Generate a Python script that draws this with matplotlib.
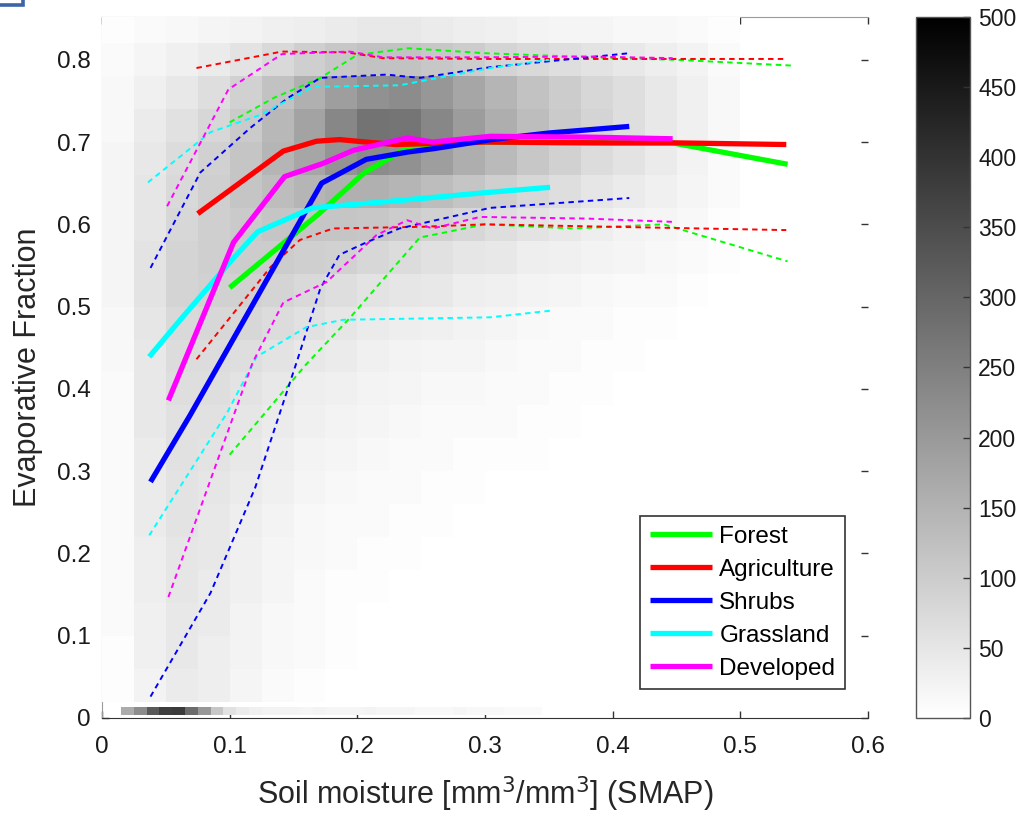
import numpy as np
import matplotlib
matplotlib.use("Agg")
import matplotlib.pyplot as plt
from matplotlib.patches import Rectangle

plt.rcParams["font.family"] = ["Liberation Sans", "DejaVu Sans"]

# --- binned medians (solid) and spread bounds (dashed) per land cover ---
classes = ["Forest", "Agriculture", "Shrubs", "Grassland", "Developed"]
colors = ["#00ff00", "#ff0000", "#0000ff", "#00ffff", "#ff00ff"]

forest_x = [0.10, 0.135, 0.17, 0.205, 0.24, 0.30, 0.36, 0.40, 0.447, 0.537]
forest_mid = [0.523, 0.568, 0.613, 0.662, 0.694, 0.700, 0.699, 0.699, 0.699, 0.673]
forest_hi_x = [0.10, 0.135, 0.17, 0.20, 0.24, 0.30, 0.40, 0.45, 0.54]
forest_hi = [0.724, 0.754, 0.777, 0.806, 0.814, 0.808, 0.802, 0.800, 0.793]
forest_lo_x = [0.10, 0.16, 0.194, 0.223, 0.249, 0.30, 0.37, 0.44, 0.537]
forest_lo = [0.320, 0.430, 0.486, 0.538, 0.584, 0.600, 0.595, 0.600, 0.555]

agri_x = [0.075, 0.142, 0.168, 0.186, 0.207, 0.23, 0.30, 0.40, 0.45, 0.536]
agri_mid = [0.613, 0.689, 0.701, 0.703, 0.700, 0.697, 0.700, 0.699, 0.699, 0.697]
agri_hi_x = [0.074, 0.141, 0.192, 0.22, 0.30, 0.40, 0.536]
agri_hi = [0.790, 0.810, 0.809, 0.802, 0.801, 0.801, 0.801]
agri_lo_x = [0.074, 0.132, 0.155, 0.181, 0.25, 0.30, 0.40, 0.536]
agri_lo = [0.436, 0.548, 0.581, 0.595, 0.597, 0.600, 0.597, 0.593]

shrub_x = [0.038, 0.069, 0.172, 0.207, 0.24, 0.26, 0.305, 0.35, 0.413]
shrub_mid = [0.287, 0.368, 0.650, 0.679, 0.688, 0.692, 0.703, 0.711, 0.719]
shrub_hi_x = [0.038, 0.077, 0.116, 0.145, 0.171, 0.223, 0.249, 0.304, 0.413]
shrub_hi = [0.547, 0.663, 0.717, 0.753, 0.778, 0.782, 0.778, 0.791, 0.808]
shrub_lo_x = [0.038, 0.085, 0.12, 0.153, 0.171, 0.186, 0.207, 0.233, 0.304, 0.413]
shrub_lo = [0.026, 0.152, 0.280, 0.435, 0.522, 0.563, 0.578, 0.595, 0.620, 0.632]

grass_x = [0.037, 0.063, 0.103, 0.122, 0.165, 0.233, 0.304, 0.351]
grass_mid = [0.439, 0.487, 0.559, 0.591, 0.620, 0.629, 0.639, 0.645]
grass_hi_x = [0.036, 0.085, 0.124, 0.165, 0.233, 0.304, 0.35]
grass_hi = [0.651, 0.712, 0.733, 0.767, 0.769, 0.790, 0.800]
grass_lo_x = [0.037, 0.098, 0.121, 0.16, 0.189, 0.304, 0.351]
grass_lo = [0.222, 0.371, 0.439, 0.475, 0.484, 0.487, 0.495]

dev_x = [0.052, 0.103, 0.143, 0.173, 0.197, 0.239, 0.259, 0.304, 0.38, 0.447]
dev_mid = [0.386, 0.578, 0.658, 0.674, 0.690, 0.705, 0.700, 0.707, 0.706, 0.704]
dev_hi_x = [0.051, 0.099, 0.141, 0.194, 0.22, 0.296, 0.38, 0.447]
dev_hi = [0.622, 0.764, 0.807, 0.810, 0.803, 0.803, 0.804, 0.802]
dev_lo_x = [0.052, 0.118, 0.142, 0.176, 0.215, 0.239, 0.259, 0.296, 0.38, 0.447]
dev_lo = [0.147, 0.432, 0.505, 0.530, 0.587, 0.605, 0.595, 0.609, 0.607, 0.603]

# --- 2-D histogram of all samples (counts per bin) ---
sm_edges = np.arange(0.0, 0.5001, 0.025)          # 20 soil-moisture bins
ef_edges = np.arange(0.02, 0.8601, 0.04)          # 21 EF bins
# rows listed from the top (EF ~0.84) down to the bottom (EF ~0.04)
counts_top_down = [
    [5, 10, 15, 20, 25, 30, 35, 40, 45, 45, 40, 35, 30, 25, 20, 20, 15, 15, 10, 5],
    [10, 20, 30, 40, 55, 75, 95, 110, 120, 120, 110, 100, 85, 75, 65, 55, 45, 35, 25, 10],
    [15, 30, 45, 65, 90, 120, 155, 190, 215, 225, 205, 175, 145, 120, 100, 80, 65, 45, 30, 15],
    [15, 40, 60, 80, 105, 140, 180, 235, 275, 270, 235, 195, 160, 130, 105, 85, 65, 45, 30, 15],
    [20, 45, 70, 90, 115, 145, 175, 210, 225, 215, 190, 160, 135, 110, 90, 70, 55, 40, 25, 10],
    [20, 50, 75, 95, 115, 130, 145, 155, 155, 145, 130, 115, 95, 80, 65, 50, 40, 30, 20, 10],
    [20, 50, 80, 95, 105, 115, 115, 115, 110, 100, 90, 80, 65, 55, 45, 35, 25, 20, 15, 5],
    [20, 55, 85, 95, 100, 100, 95, 90, 80, 70, 60, 50, 45, 35, 30, 25, 20, 15, 10, 5],
    [20, 55, 85, 90, 90, 85, 75, 65, 55, 50, 45, 35, 30, 25, 20, 15, 10, 10, 5, 0],
    [15, 50, 75, 80, 80, 70, 60, 50, 40, 35, 30, 25, 20, 15, 10, 10, 5, 5, 0, 0],
    [15, 45, 70, 70, 65, 55, 45, 40, 30, 25, 20, 20, 15, 10, 10, 5, 5, 0, 0, 0],
    [10, 45, 65, 65, 55, 45, 35, 30, 25, 20, 15, 15, 10, 10, 5, 5, 0, 0, 0, 0],
    [10, 45, 60, 60, 50, 40, 30, 25, 20, 15, 10, 10, 10, 5, 5, 0, 0, 0, 0, 0],
    [10, 40, 60, 55, 45, 35, 25, 20, 15, 10, 10, 5, 5, 5, 0, 0, 0, 0, 0, 0],
    [10, 40, 55, 50, 40, 30, 20, 15, 10, 10, 5, 5, 0, 0, 0, 0, 0, 0, 0, 0],
    [10, 40, 55, 45, 35, 25, 15, 10, 10, 5, 5, 0, 0, 0, 0, 0, 0, 0, 0, 0],
    [10, 35, 50, 45, 30, 20, 15, 10, 5, 5, 0, 0, 0, 0, 0, 0, 0, 0, 0, 0],
    [10, 35, 50, 40, 30, 20, 10, 5, 5, 0, 0, 0, 0, 0, 0, 0, 0, 0, 0, 0],
    [10, 30, 45, 40, 25, 15, 10, 5, 0, 0, 0, 0, 0, 0, 0, 0, 0, 0, 0, 0],
    [5, 30, 45, 35, 25, 15, 10, 5, 0, 0, 0, 0, 0, 0, 0, 0, 0, 0, 0, 0],
    [5, 25, 40, 35, 20, 10, 5, 0, 0, 0, 0, 0, 0, 0, 0, 0, 0, 0, 0, 0],
]
# samples with EF ~ 0 (thin band along the bottom), 0.01-wide bins
zero_ef_edges = np.arange(0.015, 0.3451, 0.01)
zero_ef_counts = [165, 225, 325, 380, 385, 290, 205, 110, 60, 40, 30, 25, 25, 25,
                  20, 25, 20, 20, 20, 25, 20, 20, 20, 15, 15, 15, 20, 15, 15, 15,
                  10, 10, 10]
zero_ef_band = [0.0035, 0.0135]

xticks = [0, 0.1, 0.2, 0.3, 0.4, 0.5, 0.6]
xtick_labels = ["0", "0.1", "0.2", "0.3", "0.4", "0.5", "0.6"]
yticks = [0, 0.1, 0.2, 0.3, 0.4, 0.5, 0.6, 0.7, 0.8]
ytick_labels = ["0", "0.1", "0.2", "0.3", "0.4", "0.5", "0.6", "0.7", "0.8"]
cbar_ticks = list(range(0, 501, 50))

W, H = 1023, 814
fig = plt.figure(figsize=(W / 100, H / 100), dpi=100)
ax = fig.add_axes([102 / W, 1 - 718 / H, 766 / W, 701 / H])

counts = np.array(counts_top_down[::-1], dtype=float)
mesh = ax.pcolormesh(sm_edges, ef_edges, counts, cmap="gray_r", vmin=0, vmax=500,
                     shading="flat", zorder=3)
ax.pcolormesh(zero_ef_edges, zero_ef_band, np.array([zero_ef_counts], dtype=float),
              cmap="gray_r", vmin=0, vmax=500, shading="flat", zorder=3)

solid = [(forest_x, forest_mid), (agri_x, agri_mid), (shrub_x, shrub_mid),
         (grass_x, grass_mid), (dev_x, dev_mid)]
upper = [(forest_hi_x, forest_hi), (agri_hi_x, agri_hi), (shrub_hi_x, shrub_hi),
         (grass_hi_x, grass_hi), (dev_hi_x, dev_hi)]
lower = [(forest_lo_x, forest_lo), (agri_lo_x, agri_lo), (shrub_lo_x, shrub_lo),
         (grass_lo_x, grass_lo), (dev_lo_x, dev_lo)]

dash = (0, (2.8, 2.2))
for (hx, hy), (lx, ly), c in zip(upper, lower, colors):
    ax.plot(hx, hy, color=c, lw=1.4, ls=dash, zorder=4)
    ax.plot(lx, ly, color=c, lw=1.4, ls=dash, zorder=4)
for (sx, sy), c, name in zip(solid, colors, classes):
    ax.plot(sx, sy, color=c, lw=3.8, label=name, zorder=5, solid_capstyle="butt")

ax.set_xlim(0, 0.6)
ax.set_ylim(0, 0.852)
ax.set_xticks(xticks, xtick_labels)
ax.set_yticks(yticks, ytick_labels)
ax.set_axisbelow(True)
ax.tick_params(direction="in", top=True, right=True, length=5, width=1,
               color="#333333", labelsize=17.5, labelcolor="#1a1a1a")
ax.tick_params(axis="y", pad=8)
ax.tick_params(axis="x", pad=13)
ax.spines["right"].set_visible(False)
for side in ("left", "top"):
    ax.spines[side].set_color("#9a9a9a")
ax.spines["bottom"].set_color("#333333")

ax.set_xlabel("Soil moisture [mm$^3$/mm$^3$] (SMAP)", fontsize=22, color="#262626",
              labelpad=12)
ax.set_ylabel("Evaporative Fraction", fontsize=22, color="#262626", labelpad=10)

leg = ax.legend(loc="lower right", bbox_to_anchor=(0.970, 0.041), borderaxespad=0,
                fontsize=17.5, handlelength=2.55, handletextpad=0.3, labelspacing=0.45,
                fancybox=False, framealpha=1, edgecolor="#333333",
                borderpad=0.4)
leg.get_frame().set_linewidth(1.2)
leg.set_zorder(6)

cax = fig.add_axes([916 / W, 1 - 718 / H, 54 / W, 701 / H])
cb = fig.colorbar(mesh, cax=cax, ticks=cbar_ticks)
cb.ax.tick_params(direction="in", length=5, width=1, labelsize=16.5,
                  color="#333333", labelcolor="#1a1a1a", pad=6)
cb.outline.set_edgecolor("#555555")
cb.outline.set_linewidth(1.0)

# panel marker in the top-left corner
fig.add_artist(Rectangle((-0.02, 1 - 5 / H), 0.02 + 23 / W, 0.05,
                         transform=fig.transFigure, fill=False,
                         edgecolor="#3d63a8", lw=2.6, clip_on=False))

fig.savefig("out.png", dpi=100)
